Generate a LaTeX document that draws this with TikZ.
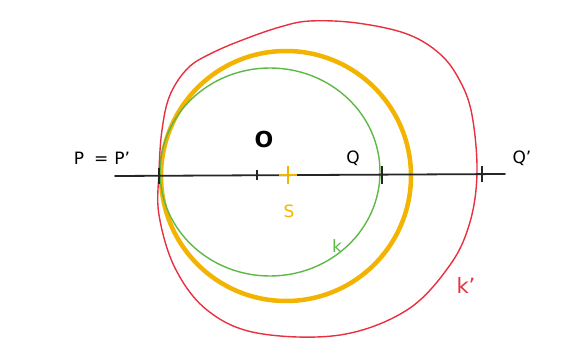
\documentclass[tikz,border=0pt]{standalone}
\usepackage{fontspec}
\setmainfont{DejaVu Sans}
\begin{document}
\begin{tikzpicture}[x=1pt,y=-1pt,
  axis/.style={draw=black!85,line width=1.8pt,line cap=round},
  tickmark/.style={draw=black!85,line width=2.2pt},
  lbl/.style={font=\fontsize{17}{17}\selectfont,inner sep=1pt},
  korig/.style={draw=kgreen,line width=1.4pt},
  kimg/.style={draw=kred,line width=1.4pt},
  sphere/.style={draw=korange,line width=4.5pt}]
\definecolor{kgreen}{HTML}{5DB845}
\definecolor{kred}{HTML}{E8303F}
\definecolor{korange}{HTML}{F2B400}
\useasboundingbox (0,0) rectangle (570,342);
% circles
\draw[sphere] (286,176) circle (125);
\draw[korig] (270,172) ellipse [x radius=110, y radius=104];
\draw[kimg] plot[smooth cycle, tension=0.6] coordinates {
  (159,172) (162,130) (170,95) (188,68) (212,53) (245,39) (280,27) (310,21) (357,23)
  (407,34) (440,54) (460,81) (472,115) (477,172) (470,222) (450,265)
  (407,310) (340,335) (257,333) (207,310) (175,268) (159,215)};
% axis
\coordinate (L) at (115,176);
\coordinate (R) at (505,174);
\draw[axis] (L) -- (R);
\coordinate (P) at (159,176);
\coordinate (O) at (257,175);
\coordinate (Q) at (382,175);
\coordinate (Qp) at (482,174);
\coordinate (S) at (288,175);
\draw[tickmark] ([yshift=-8]P) -- ([yshift=8]P);
\draw[tickmark] ([yshift=-5]O) -- ([yshift=5]O);
\draw[tickmark] ([yshift=-9]Q) -- ([yshift=9]Q);
\draw[tickmark] ([yshift=-8]Qp) -- ([yshift=8]Qp);
\draw[korange,line width=2.2pt] ([xshift=-9]S) -- ([xshift=9]S) ([yshift=-9]S) -- ([yshift=9]S);
% labels
\node[lbl] (lP) at (102,158) {P\hspace{10pt}=\hspace{6pt}P'};
\node[lbl,font=\fontsize{22}{22}\selectfont\bfseries] (lO) at (264,139) {O};
\node[lbl] (lQ) at (353,158) {Q};
\node[lbl] (lQp) at (522,158) {Q'};
\node[lbl,text=korange] (lS) at (289,211) {S};
\node[lbl,text=kgreen] (lk) at (337,246) {k};
\node[lbl,text=kred,font=\fontsize{21}{21}\selectfont] (lkp) at (466,286) {k'};
\end{tikzpicture}
\end{document}
